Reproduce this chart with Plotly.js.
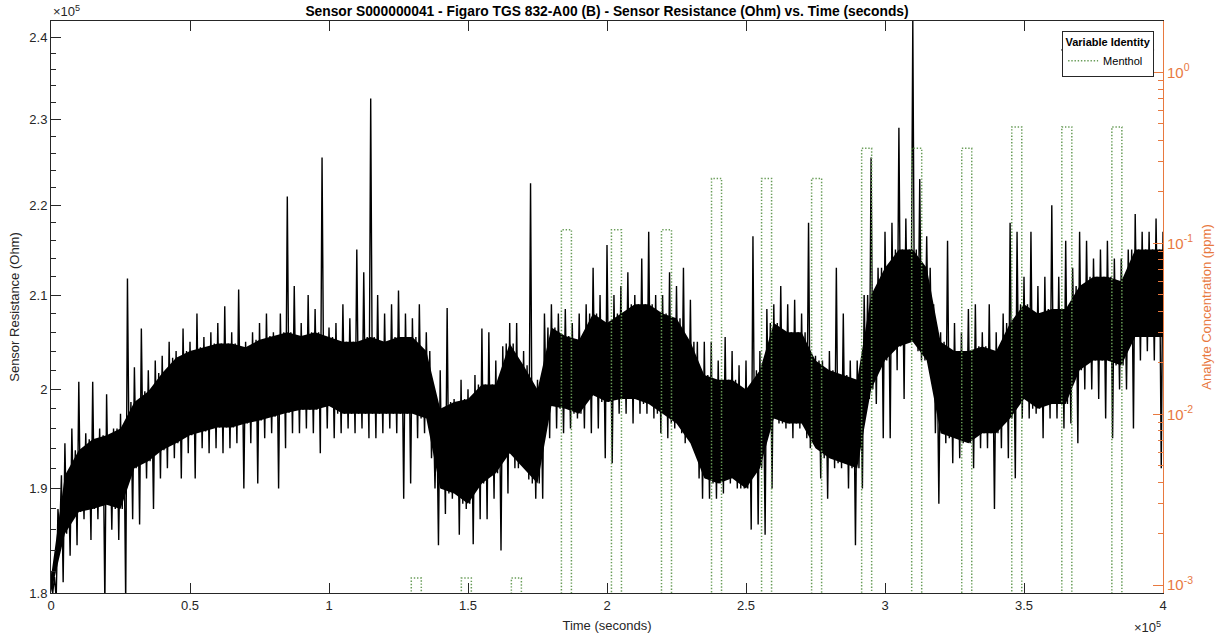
<!DOCTYPE html>
<html><head><meta charset="utf-8">
<script src="https://cdn.plot.ly/plotly-3.0.1.min.js"></script>
<style>html,body{margin:0;padding:0;background:#fff}#chart{width:1224px;height:636px}</style>
</head><body><div id="chart"></div>
<script>
// Sensor resistance (units of 1e5 Ohm).
// Outer envelope (spikes / dips), one max & one min per 2500 s bin
const edgeStep = 2500;
const edgeHi = [1.82,1.88,1.945,1.96,2.008,1.955,2.008,1.96,1.995,1.96,1.975,
 2.118,2.023,2.064,2.02,2.03,2.035,2.05,2.04,2.064,2.05,
 2.08,2.055,2.06,2.07,2.088,2.06,2.106,2.05,2.06,2.07,
 2.08,2.06,2.08,2.21,2.11,2.07,2.10,2.085,2.255,2.065,
 2.07,2.09,2.075,2.15,2.125,2.325,2.10,2.08,2.09,2.105,
 2.08,2.075,2.09,2.06,1.985,2.02,2.086,1.99,2.01,2.0,
 2.015,2.064,2.06,2.03,2.045,2.07,2.07,2.04,2.225,2.01,
 2.08,2.09,2.08,2.085,2.07,2.08,2.09,2.13,2.10,2.155,
 2.10,2.11,2.125,2.10,2.14,2.17,2.10,2.10,2.125,2.11,
 2.13,2.095,2.05,2.05,2.05,2.03,2.055,2.04,2.025,2.03,
 2.165,2.04,2.085,2.09,2.11,2.09,2.095,2.08,2.18,2.035,
 2.03,2.04,2.13,2.08,2.03,2.03,2.10,2.255,2.13,2.17,
 2.18,2.29,2.185,2.42,2.23,2.165,2.09,2.06,2.16,2.07,
 2.06,2.085,2.09,2.06,2.09,2.06,2.08,2.18,2.17,2.12,
 2.17,2.11,2.12,2.20,2.12,2.16,2.13,2.17,2.16,2.14,
 2.15,2.16,2.14,2.14,2.15,2.19,2.17,2.17,2.185,2.17];
const edgeLo = [1.795,1.81,1.835,1.845,1.87,1.85,1.87,1.79,1.86,1.85,1.79,
 1.87,1.865,1.91,1.88,1.91,1.92,1.93,1.91,1.935,1.91,
 1.94,1.935,1.94,1.935,1.94,1.945,1.90,1.945,1.905,1.95,
 1.955,1.90,1.94,1.955,1.955,1.96,1.955,1.935,1.96,1.95,
 1.955,1.96,1.955,1.96,1.95,1.95,1.955,1.96,1.955,1.89,
 1.905,1.95,1.955,1.93,1.845,1.875,1.89,1.855,1.88,1.846,
 1.87,1.87,1.89,1.84,1.895,1.92,1.925,1.909,1.89,1.89,
 1.95,1.96,1.955,1.96,1.97,1.96,1.955,1.96,1.93,1.925,
 1.975,1.975,1.965,1.975,1.975,1.97,1.955,1.95,1.96,1.955,
 1.95,1.935,1.89,1.89,1.89,1.895,1.905,1.90,1.90,1.86,
 1.865,1.855,1.90,1.965,1.96,1.95,1.96,1.95,1.95,1.91,
 1.89,1.92,1.92,1.90,1.845,1.90,1.99,1.985,1.95,1.95,
 2.02,1.99,2.05,2.04,2.03,2.02,1.885,1.945,1.925,1.93,
 1.95,1.92,1.94,1.94,1.88,1.94,1.93,1.91,1.97,1.97,
 1.975,1.95,1.97,1.97,1.96,1.965,1.945,2.0,2.0,1.99,
 1.97,1.95,2.0,2.0,1.96,2.03,2.04,2.03,1.92,2.04];
// Dense core of the noise band, every 5000 s
const coreStep = 5000;
const coreHi = [1.815,1.913,1.938,1.949,1.953,1.96,1.987,1.998,2.017,2.033,2.04,
 2.044,2.048,2.048,2.044,2.052,2.056,2.06,2.056,2.06,2.055,
 2.05,2.05,2.055,2.05,2.055,2.055,2.04,1.98,1.987,1.99,
 2.005,2.005,2.048,2.025,2.0,2.065,2.056,2.052,2.08,2.07,
 2.08,2.09,2.09,2.08,2.075,2.05,2.015,2.01,2.01,2.0,
 2.02,2.07,2.06,2.06,2.03,2.02,2.015,2.01,2.10,2.13,
 2.15,2.15,2.13,2.05,2.04,2.04,2.045,2.04,2.07,2.09,
 2.08,2.085,2.085,2.11,2.12,2.12,2.115,2.15,2.15,2.15];
const coreLo = [1.80,1.856,1.877,1.88,1.884,1.88,1.92,1.927,1.938,1.945,1.953,
 1.957,1.961,1.961,1.965,1.968,1.972,1.976,1.979,1.979,1.983,
 1.975,1.975,1.975,1.975,1.975,1.975,1.97,1.90,1.895,1.885,
 1.905,1.915,1.935,1.92,1.905,1.983,1.98,1.975,1.994,1.987,
 1.99,1.99,1.985,1.975,1.965,1.945,1.91,1.905,1.91,1.90,
 1.92,1.97,1.965,1.965,1.94,1.93,1.925,1.92,2.0,2.03,
 2.045,2.05,2.03,1.955,1.95,1.945,1.955,1.955,1.97,1.99,
 1.98,1.985,1.985,2.02,2.03,2.03,2.025,2.055,2.055,2.055];

// Menthol exposure (ppm)
const pulseStart = [129600,147600,165600,183600,201600,219600,237600,255600,273600,291600,309600,327600,345600,363600,381600];
const pulseLevel = [0.0011,0.0011,0.0011,0.12,0.12,0.12,0.24,0.24,0.24,0.36,0.36,0.36,0.48,0.48,0.48];
const pulseWidth = 3600;
const pulseBase = 0.0001;
const timeEnd = 400000;

// Axis ticks
const xTickVals = [0,50000,100000,150000,200000,250000,300000,350000,400000];
const xTickText = ['0','0.5','1','1.5','2','2.5','3','3.5','4'];
const yTickVals = [1.8,1.9,2.0,2.1,2.2,2.3,2.4];
const yTickText = ['1.8','1.9','2','2.1','2.2','2.3','2.4'];
const yMinorVals = [1.82,1.84,1.86,1.88,1.92,1.94,1.96,1.98,2.02,2.04,2.06,2.08,2.12,2.14,2.16,2.18,2.22,2.24,2.26,2.28,2.32,2.34,2.36,2.38,2.42];
const y2TickVals = [0.001,0.01,0.1,1];
const y2TickText = ['10<sup>-3</sup>','10<sup>-2</sup>','10<sup>-1</sup>','10<sup>0</sup>'];
const y2MinorVals = [0.002,0.003,0.004,0.005,0.006,0.007,0.008,0.009,0.02,0.03,0.04,0.05,0.06,0.07,0.08,0.09,0.2,0.3,0.4,0.5,0.6,0.7,0.8,0.9,2];

const ORANGE = '#e8793f';
const AX = '#262626';

// build traces: inside each 2500 s bin the signal swings to the bin's outer max,
// the core min, the core max and the bin's outer min
const zx = [], zy = [];
for (let k = 0; k < edgeHi.length; k++) {
  const t = k * edgeStep;
  const c = Math.min(coreHi.length - 1, Math.round(k * edgeStep / coreStep));
  zx.push(t, t + edgeStep * 0.25, t + edgeStep * 0.5, t + edgeStep * 0.75);
  zy.push(edgeHi[k], coreLo[c], coreHi[c], edgeLo[k]);
}
const cx = coreHi.map((_, i) => i * coreStep);
const px = [0], py = [pulseBase];
pulseStart.forEach((s, i) => {
  px.push(s, s, s + pulseWidth, s + pulseWidth);
  py.push(pulseBase, pulseLevel[i], pulseLevel[i], pulseBase);
});
px.push(timeEnd); py.push(pulseBase);

const traces = [
  {x: cx, y: coreLo, type: 'scatter', mode: 'lines', line: {width: 0, color: '#000'}, showlegend: false, hoverinfo: 'skip'},
  {x: cx, y: coreHi, type: 'scatter', mode: 'lines', line: {width: 0, color: '#000'}, fill: 'tonexty', fillcolor: '#000', showlegend: false, hoverinfo: 'skip'},
  {x: zx, y: zy, type: 'scatter', mode: 'lines', line: {width: 1.4, color: '#000'}, showlegend: false, name: 'Sensor Resistance'},
  {x: px, y: py, yaxis: 'y2', type: 'scatter', mode: 'lines', name: 'Menthol',
   line: {width: 1.5, color: 'rgb(104,156,88)', dash: '1.4px,1.8px'}}
];

const layout = {
  width: 1224, height: 636,
  margin: {l: 51, r: 61, t: 21, b: 43, pad: 0},
  paper_bgcolor: '#fff', plot_bgcolor: '#fff',
  font: {family: 'Liberation Sans, Arial, sans-serif', size: 13, color: AX},
  title: {text: '<b>Sensor S000000041 - Figaro TGS 832-A00 (B) - Sensor Resistance (Ohm) vs. Time (seconds)</b>',
          x: 0.5, xref: 'paper', xanchor: 'center', y: 0.983, yref: 'container', yanchor: 'middle',
          font: {size: 13.8, color: '#000'}},
  showlegend: true,
  legend: {x: 0.992, xanchor: 'right', y: 0.9825, yanchor: 'top', bgcolor: '#fff',
           bordercolor: AX, borderwidth: 1, font: {size: 11, color: '#000'},
           title: {text: '<b>Variable Identity</b>', side: 'top center', font: {size: 11, color: '#000'}}},
  xaxis: {range: [0, timeEnd], tickmode: 'array', tickvals: xTickVals, ticktext: xTickText,
          ticks: 'inside', ticklen: 10, tickcolor: AX, showline: true, linecolor: AX, linewidth: 1,
          mirror: 'ticks', showgrid: false, zeroline: false, automargin: false,
          tickfont: {size: 13, color: AX},
          title: {text: 'Time (seconds)', font: {size: 13, color: AX}, standoff: 9}},
  yaxis: {type: 'log', range: [Math.log10(1.8), Math.log10(2.42)], tickmode: 'array',
          tickvals: yTickVals, ticktext: yTickText, ticks: 'inside', ticklen: 10, tickcolor: AX,
          showline: true, linecolor: AX, linewidth: 1, showgrid: false, zeroline: false, automargin: false,
          tickfont: {size: 13, color: AX},
          minor: {tickmode: 'array', tickvals: yMinorVals, ticks: 'inside', ticklen: 5, tickcolor: AX, showgrid: false},
          title: {text: 'Sensor Resistance (Ohm)', font: {size: 13, color: AX}, standoff: 6}},
  yaxis2: {type: 'log', overlaying: 'y', side: 'right', range: [Math.log10(0.0009), Math.log10(2)],
           tickmode: 'array', tickvals: y2TickVals, ticktext: y2TickText, ticks: 'inside', ticklen: 10,
           tickcolor: ORANGE, showline: true, linecolor: ORANGE, linewidth: 1, showgrid: false, zeroline: false,
           automargin: false, tickfont: {size: 15, color: ORANGE},
           minor: {tickmode: 'array', tickvals: y2MinorVals, ticks: 'inside', ticklen: 5, tickcolor: ORANGE, showgrid: false},
           title: {text: 'Analyte Concentration (ppm)', font: {size: 13, color: ORANGE}, standoff: 9}},
  annotations: [
    {text: '×10<sup>5</sup>', xref: 'paper', yref: 'paper', x: 0, y: 1, xanchor: 'left', yanchor: 'bottom',
     showarrow: false, font: {size: 13, color: AX}, yshift: 0},
    {text: '×10<sup>5</sup>', xref: 'paper', yref: 'paper', x: 1, y: 0, xanchor: 'right', yanchor: 'top',
     showarrow: false, font: {size: 13, color: AX}, yshift: -24}
  ],
  shapes: [
    {type: 'line', xref: 'paper', yref: 'paper', x0: 0.9083, x1: 0.992, y0: 0.9494, y1: 0.9494,
     line: {color: AX, width: 1}}
  ]
};

Plotly.newPlot('chart', traces, layout, {displayModeBar: false, staticPlot: true});
</script>
</body></html>
